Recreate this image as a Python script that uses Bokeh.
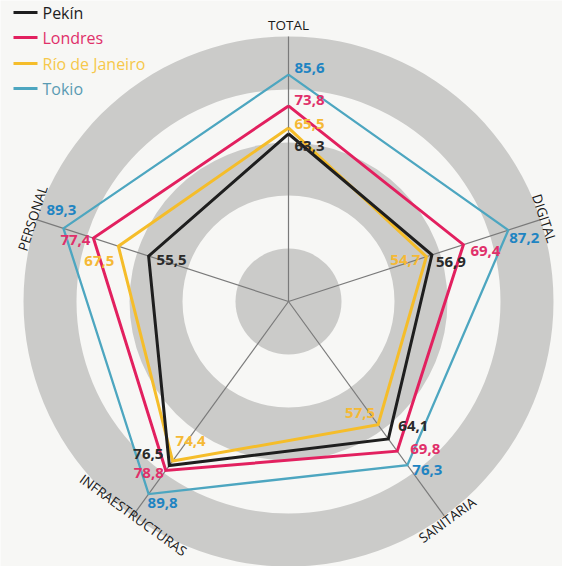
import math
from bokeh.plotting import figure
from bokeh.models import Range1d, ColumnDataSource
from bokeh.core.properties import value
from bokeh.embed import file_html
from bokeh.resources import INLINE

# ---------------- data ----------------
categories = ["TOTAL", "DIGITAL", "SANITARIA", "INFRAESTRUCTURAS", "PERSONAL"]
series_names = ["Pekín", "Londres", "Río de Janeiro", "Tokio"]
pekin = [63.3, 56.9, 64.1, 76.5, 55.5]
londres = [73.8, 69.4, 69.8, 78.8, 77.4]
rio = [65.5, 54.7, 57.5, 74.4, 67.5]
tokio = [85.6, 87.2, 76.3, 89.8, 89.3]
ring_edges = [0, 20, 40, 60, 80, 100]

# ---------------- styling / layout ----------------
W, H = 562, 566
S = 2.65                      # px per value unit
CX, CY = 288, 301             # centre in plot px (from top-left)
BG = "#f7f7f5"
RING = "#cbcbc9"
FONT = "Open Sans"

line_colors = {"Pekín": "#1e1e1e", "Londres": "#e2205f", "Río de Janeiro": "#f5bd2a", "Tokio": "#4da6c0"}
label_colors = {"Pekín": "#2a2a2a", "Londres": "#e0306a", "Río de Janeiro": "#f5b935", "Tokio": "#1f84c2"}
legend_colors = {"Pekín": "#1e1e1e", "Londres": "#e0306a", "Río de Janeiro": "#f6c84a", "Tokio": "#5a9bb3"}
line_widths = {"Pekín": 3, "Londres": 3, "Río de Janeiro": 3, "Tokio": 2.3}

# value label placement: (dx px, dy px downward, align) per category
label_place = {
    "Pekín": [(6, 12, "left"), (4, 7, "left"), (10, -13, "left"), (-6, -12, "right"), (8, 4, "left")],
    "Londres": [(6, -6, "left"), (7, 6, "left"), (13, -2, "left"), (-2, 3, "right"), (-3, 2, "right")],
    "Río de Janeiro": [(6, -4, "left"), (-6, 3, "right"), (-3, -12, "right"), (3, -20, "left"), (-4, 15, "right")],
    "Tokio": [(6, -7, "left"), (1, 8, "left"), (5, 5, "left"), (-1, 9, "left"), (-2, -18, "center")],
}
# category label radius (px) and rotation (deg)
cat_radius = [277, 269, 270, 264, 269]
cat_rot = [0, -72, 36, -36, 72]

values = {"Pekín": pekin, "Londres": londres, "Río de Janeiro": rio, "Tokio": tokio}

angles = [math.radians(90 - 72 * k) for k in range(len(categories))]

p = figure(width=W, height=H, output_backend="svg", toolbar_location=None,
           x_range=Range1d(-CX / S, (W - CX) / S), y_range=Range1d(-(H - CY) / S, CY / S),
           min_border=0, background_fill_color=BG, border_fill_color=BG)
p.xaxis.visible = False
p.yaxis.visible = False
p.grid.visible = False
p.outline_line_color = None

# concentric bands
for i in range(len(ring_edges) - 1):
    if i % 2 == 0:
        if ring_edges[i] == 0:
            p.circle(x=[0], y=[0], radius=ring_edges[i + 1], fill_color=RING, line_color=None)
        else:
            p.annulus(x=[0], y=[0], inner_radius=ring_edges[i], outer_radius=ring_edges[i + 1],
                      fill_color=RING, line_color=None)

# spokes
rmax = ring_edges[-1]
p.segment(x0=[0] * 5, y0=[0] * 5,
          x1=[rmax * math.cos(a) for a in angles], y1=[rmax * math.sin(a) for a in angles],
          line_color="#7a7a7a", line_width=1.2)

# series polygons
for name in ["Tokio", "Londres", "Río de Janeiro", "Pekín"]:
    vals = values[name]
    xs = [v * math.cos(a) for v, a in zip(vals, angles)]
    ys = [v * math.sin(a) for v, a in zip(vals, angles)]
    p.line(x=xs + xs[:1], y=ys + ys[:1], line_color=line_colors[name],
           line_width=line_widths[name], line_join="miter")

# value labels
for name in ["Tokio", "Londres", "Río de Janeiro", "Pekín"]:
    vals = values[name]
    lx, ly, txt, al = [], [], [], []
    for v, a, (dx, dy, align) in zip(vals, angles, label_place[name]):
        lx.append(v * math.cos(a) + dx / S)
        ly.append(v * math.sin(a) - dy / S)
        txt.append(f"{v:.1f}".replace(".", ","))
        al.append(align)
    src = ColumnDataSource(dict(x=lx, y=ly, text=txt, align=al))
    p.text(x="x", y="y", text="text", text_align="align", text_baseline="middle", source=src,
           text_font=value(FONT), text_font_size="15px", text_font_style="bold",
           text_color=label_colors[name])

# category labels
src = ColumnDataSource(dict(
    x=[r / S * math.cos(a) for r, a in zip(cat_radius, angles)],
    y=[r / S * math.sin(a) for r, a in zip(cat_radius, angles)],
    text=categories,
    angle=[math.radians(r) for r in cat_rot]))
p.text(x="x", y="y", text="text", angle="angle", source=src, text_align="center",
       text_baseline="middle", text_font=value(FONT), text_font_size="13.5px",
       text_color="#1a1a1a")

# legend (manual)
def pg(X, Y):
    return ((X - 8 - CX) / S, (CY - (Y - 8)) / S)

leg_y = [20, 45, 71, 96]
for name, yy in zip(series_names, leg_y):
    x0, y0 = pg(21, yy)
    x1, _ = pg(45, yy)
    p.line(x=[x0, x1], y=[y0, y0], line_color=line_colors[name], line_width=3)
    tx, ty = pg(50, yy)
    p.text(x=[tx], y=[ty], text=[name], text_align="left", text_baseline="middle",
           text_font=value(FONT), text_font_size="16px", text_color=legend_colors[name])

open("out.html", "w").write(file_html(p, INLINE))
